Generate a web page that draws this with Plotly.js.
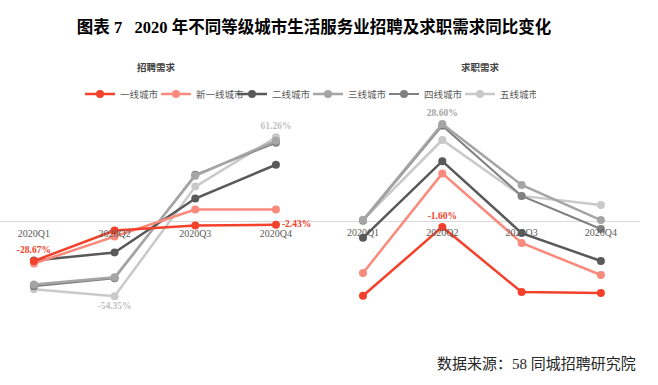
<!DOCTYPE html>
<html><head><meta charset="utf-8">
<script src="https://cdn.plot.ly/plotly-3.0.1.min.js"></script>
<style>html,body{margin:0;padding:0;background:#fff;} #chart{width:658px;height:385px;}</style>
</head><body><div id="chart"></div>
<script>
const quarters = ['2020Q1','2020Q2','2020Q3','2020Q4'];
const cityTiers = ['一线城市','新一线城市','二线城市','三线城市','四线城市','五线城市'];
// 招聘需求 (recruitment demand, YoY %)
const recruitTier1    = [-28.67, -6.5, -2.9, -2.43];
const recruitNewTier1 = [-30.5, -10.9, 8.7, 8.7];
const recruitTier2    = [-28.3, -22.5, 16.7, 41.3];
const recruitTier3    = [-45.7, -40.6, 33.3, 58.7];
const recruitTier4    = [-47.0, -41.3, 34.0, 57.2];
const recruitTier5    = [-49.3, -54.35, 25.4, 61.26];
// 求职需求 (job-seeking demand, YoY %)
const jobTier1    = [-21.8, -1.60, -20.7, -21.0];
const jobNewTier1 = [-15.1, 14.1, -6.3, -15.7];
const jobTier2    = [-4.8, 17.7, -3.4, -11.6];
const jobTier3    = [0.4, 28.60, 10.7, 0.4];
const jobTier4    = [0.2, 28.1, 7.5, -2.2];
const jobTier5    = [0.5, 23.9, 7.5, 4.8];
// data labels
const recruitLabels = {0: ['-28.67%','','','-2.43%'], 5: ['','-54.35%','','61.26%']};
const jobLabels = {0: ['','-1.60%','',''], 3: ['','28.60%','','']};

const recruitSeries = [recruitTier1, recruitNewTier1, recruitTier2, recruitTier3, recruitTier4, recruitTier5];
const jobSeries = [jobTier1, jobNewTier1, jobTier2, jobTier3, jobTier4, jobTier5];

const colors = ['#f4412b', '#f98a7c', '#595959', '#a5a5a5', '#808080', '#c9c9c9'];
const labelColors = ['#f0402a', '#f98a7c', '#595959', '#a5a5a5', '#808080', '#bfbfbf'];
const widths = [2.5, 2.5, 2.5, 2.5, 2, 2.5];

const recruitPos = {0: ['top center','middle center','middle center','middle right'], 5: ['middle center','bottom center','middle center','top center']};
const jobPos = {0: ['middle center','top center','middle center','middle center'], 3: ['middle center','top center','middle center','middle center']};

const serif = '"Liberation Serif", "Noto Sans CJK SC", serif';
const traces = [];
for (let i = cityTiers.length - 1; i >= 0; i--) {
  traces.push({
    x: quarters, y: recruitSeries[i], xaxis: 'x', yaxis: 'y',
    type: 'scatter', mode: recruitLabels[i] ? 'lines+markers+text' : 'lines+markers',
    name: cityTiers[i], legendgroup: cityTiers[i], legendrank: i + 1,
    line: {color: colors[i], width: widths[i]},
    marker: {color: colors[i], size: 8},
    text: recruitLabels[i] || undefined,
    textposition: recruitPos[i] || undefined,
    textfont: {family: serif, size: 9.5, color: labelColors[i], weight: 'bold'},
    cliponaxis: false, hoverinfo: 'skip'
  });
  traces.push({
    x: quarters, y: jobSeries[i], xaxis: 'x2', yaxis: 'y2',
    type: 'scatter', mode: jobLabels[i] ? 'lines+markers+text' : 'lines+markers',
    name: cityTiers[i], legendgroup: cityTiers[i], showlegend: false,
    line: {color: colors[i], width: widths[i]},
    marker: {color: colors[i], size: 8},
    text: jobLabels[i] || undefined,
    textposition: jobPos[i] || undefined,
    textfont: {family: serif, size: 9.5, color: labelColors[i], weight: 'bold'},
    cliponaxis: false, hoverinfo: 'skip'
  });
}

const yRange1 = [-71.6, 81.1];
const yRange2 = [-28.9, 32.7];
const zeroPos = r => (0 - r[0]) / (r[1] - r[0]);

const axisX = {
  type: 'category', showgrid: false, zeroline: false, showline: false, ticks: '',
  tickfont: {family: serif, size: 10, color: '#595959'}, fixedrange: true,
  anchor: 'free', ticklabelstandoff: 4
};
const axisY = {
  showgrid: false, showticklabels: false, ticks: '', showline: false,
  zeroline: true, zerolinecolor: '#d9d9d9', zerolinewidth: 1, fixedrange: true
};

const layout = {
  width: 658, height: 385,
  margin: {l: 0, r: 18, t: 110, b: 65},
  paper_bgcolor: '#ffffff', plot_bgcolor: '#ffffff',
  showlegend: true,
  title: {
    text: '图表 7   2020 年不同等级城市生活服务业招聘及求职需求同比变化',
    font: {family: '"Liberation Serif", "Noto Sans CJK SC", serif', size: 16.5, color: '#000000', weight: 'bold'},
    x: 314 / 658, xanchor: 'center', xref: 'container',
    y: 1 - 27 / 385, yanchor: 'middle', yref: 'container'
  },
  xaxis: Object.assign({}, axisX, {domain: [0, 330 / 640], range: [-0.42, 3.67], position: zeroPos(yRange1)}),
  yaxis: Object.assign({}, axisY, {domain: [0, 1], range: yRange1}),
  xaxis2: Object.assign({}, axisX, {domain: [330 / 640, 1], range: [-0.416, 3.493], position: zeroPos(yRange2)}),
  yaxis2: Object.assign({}, axisY, {domain: [0, 1], range: yRange2, anchor: 'x2'}),
  legend: {
    orientation: 'h', x: 80 / 640, xanchor: 'left', y: 1 + 16 / 210, yanchor: 'middle',
    font: {family: serif, size: 9.5, color: '#595959'},
    itemwidth: 30, entrywidth: 31, entrywidthmode: 'pixels', bgcolor: 'rgba(0,0,0,0)',
    itemclick: false, itemdoubleclick: false
  },
  annotations: [
    {text: '招聘需求', xref: 'paper', yref: 'paper', x: 156 / 640, y: 1 + 43 / 210, showarrow: false,
     font: {family: '"Noto Sans CJK SC", sans-serif', size: 9.5, color: '#404040', weight: 'bold'}, xanchor: 'center', yanchor: 'middle'},
    {text: '求职需求', xref: 'paper', yref: 'paper', x: 480 / 640, y: 1 + 43 / 210, showarrow: false,
     font: {family: '"Noto Sans CJK SC", sans-serif', size: 9.5, color: '#404040', weight: 'bold'}, xanchor: 'center', yanchor: 'middle'},
    {text: '数据来源：58 同城招聘研究院', xref: 'paper', yref: 'paper', x: 435 / 640, y: -(363 - 320) / 210, showarrow: false,
     font: {family: serif, size: 15, color: '#262626'}, xanchor: 'left', yanchor: 'middle'}
  ]
};

Plotly.newPlot('chart', traces, layout, {displayModeBar: false, staticPlot: true});
</script>
</body></html>
